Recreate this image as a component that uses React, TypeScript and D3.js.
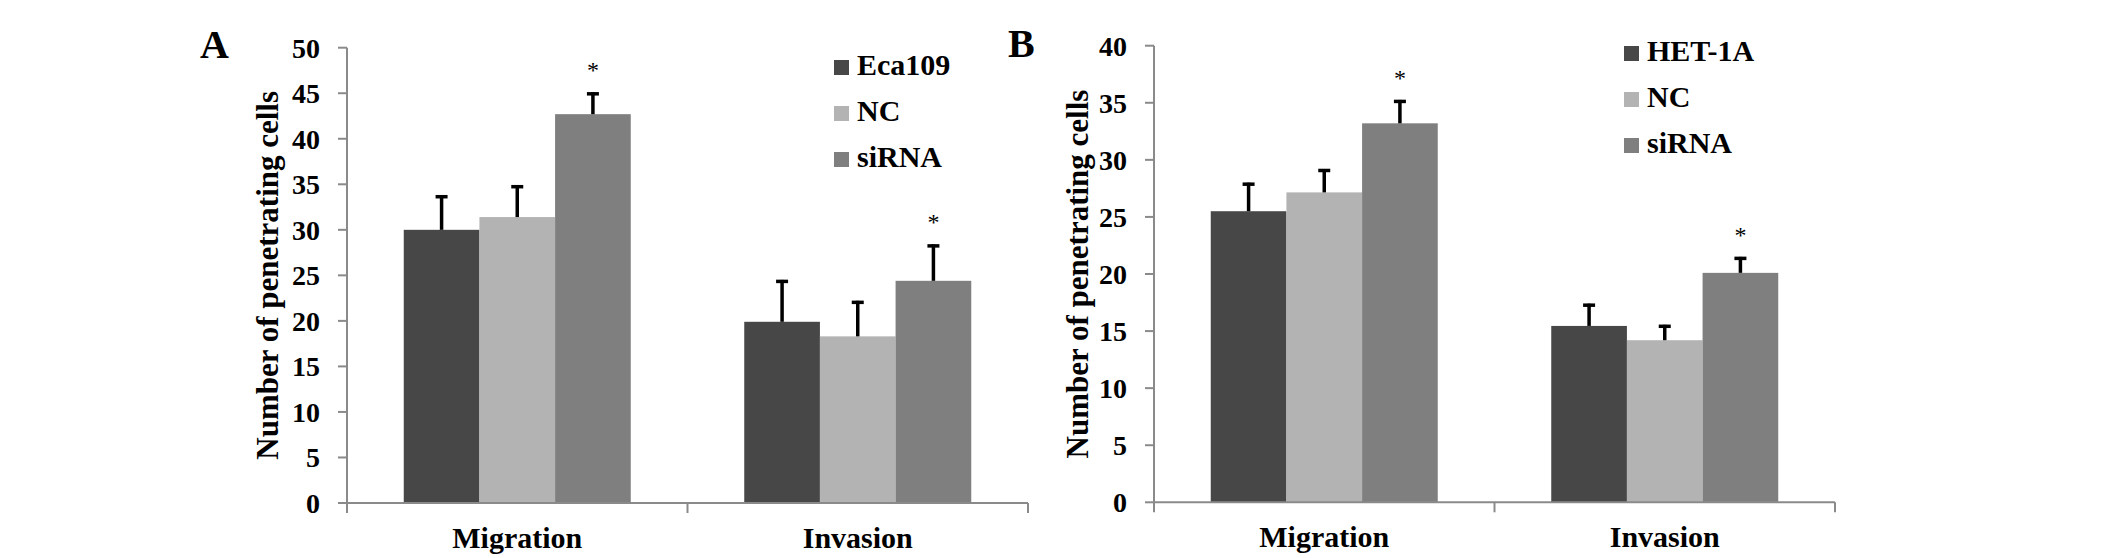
// Grouped bar charts (A: Eca109, B: HET-1A) with error bars, drawn with d3 scales
import * as d3 from "d3"

const categories = ["Migration", "Invasion"]

const seriesA = ["Eca109", "NC", "siRNA"]
const migrationA = [30, 31.4, 42.7]
const migrationErrA = [3.8, 3.5, 2.4]
const invasionA = [19.9, 18.3, 24.4]
const invasionErrA = [4.6, 3.9, 4.0]
const starsA = [[false, false, true], [false, false, true]]
const ticksA = [0, 5, 10, 15, 20, 25, 30, 35, 40, 45, 50]

const seriesB = ["HET-1A", "NC", "siRNA"]
const migrationB = [25.5, 27.15, 33.2]
const migrationErrB = [2.5, 2.05, 2.05]
const invasionB = [15.45, 14.2, 20.1]
const invasionErrB = [1.95, 1.35, 1.4]
const starsB = [[false, false, true], [false, false, true]]
const ticksB = [0, 5, 10, 15, 20, 25, 30, 35, 40]

const yTitle = "Number of penetrating cells"
const COLORS = ["#474747", "#b3b3b3", "#7f7f7f"]
const AXIS = "#8a8a8a"
const FONT = "Liberation Serif, Tinos, Times New Roman, Times, Nimbus Roman, DejaVu Serif, serif"
const txt = { fontFamily: FONT }

interface PanelProps {
  letter: string
  letterX: number
  letterY: number
  series: string[]
  values: number[][]
  errors: number[][]
  stars: boolean[][]
  ticks: number[]
  left: number
  right: number
  top: number
  bottom: number
  titleX: number
  legendX: number
  legendY: number
}

function Panel(p: PanelProps) {
  const yMax = p.ticks[p.ticks.length - 1]
  const y = d3.scaleLinear().domain([0, yMax]).range([p.bottom, p.top])
  const x0 = d3.scaleBand().domain(categories).range([p.left, p.right]).padding(0)
  const x1 = d3.scaleBand()
    .domain(p.series)
    .range([0, x0.bandwidth()])
    .paddingInner(0)
    .paddingOuter(0.75)
  const bw = x1.bandwidth()
  const edges = [p.left, p.left + x0.bandwidth(), p.right]

  return (
    <g>
      <text x={p.letterX} y={p.letterY} fontSize={40} fontWeight="bold" style={txt}>{p.letter}</text>

      {/* bars + error bars */}
      {categories.map((c, ci) =>
        p.series.map((s, si) => {
          const v = p.values[ci][si]
          const bx = (x0(c) ?? 0) + (x1(s) ?? 0)
          const cx = bx + bw / 2
          const top = y(v + p.errors[ci][si])
          return (
            <g key={c + s}>
              <rect x={bx} y={y(v)} width={bw} height={p.bottom - y(v)} fill={COLORS[si]} />
              <line x1={cx} x2={cx} y1={y(v)} y2={top} stroke="#000" strokeWidth={3.5} />
              <line x1={cx - 6} x2={cx + 6} y1={top + 1.5} y2={top + 1.5} stroke="#000" strokeWidth={3.5} />
              {p.stars[ci][si] && (
                <text x={cx} y={top - 14} fontSize={24} textAnchor="middle" style={txt}>*</text>
              )}
            </g>
          )
        })
      )}

      {/* y axis */}
      <line x1={p.left} x2={p.left} y1={p.top} y2={p.bottom} stroke={AXIS} strokeWidth={2} />
      {p.ticks.map(t => (
        <g key={t}>
          <line x1={p.left - 9} x2={p.left} y1={y(t)} y2={y(t)} stroke={AXIS} strokeWidth={2} />
          <text x={p.left - 27} y={y(t)} dy="0.35em" fontSize={28} fontWeight="bold" textAnchor="end" style={txt}>{t}</text>
        </g>
      ))}
      <text
        transform={`translate(${p.titleX},${(p.top + p.bottom) / 2}) rotate(-90)`}
        fontSize={31}
        fontWeight="bold"
        textAnchor="middle"
        style={txt}
      >
        {yTitle}
      </text>

      {/* x axis */}
      <line x1={p.left} x2={p.right} y1={p.bottom} y2={p.bottom} stroke={AXIS} strokeWidth={2} />
      {edges.map((e, i) => (
        <line key={i} x1={e} x2={e} y1={p.bottom} y2={p.bottom + 10} stroke={AXIS} strokeWidth={2} />
      ))}
      {categories.map(c => (
        <text key={c} x={(x0(c) ?? 0) + x0.bandwidth() / 2} y={p.bottom + 45} fontSize={30} fontWeight="bold" textAnchor="middle" style={txt}>
          {c}
        </text>
      ))}

      {/* legend */}
      {p.series.map((s, i) => (
        <g key={s} transform={`translate(${p.legendX},${p.legendY + i * 46})`}>
          <rect x={0} y={0} width={15} height={15} fill={COLORS[i]} />
          <text x={23} y={15} fontSize={30} fontWeight="bold" style={txt}>{s}</text>
        </g>
      ))}
    </g>
  )
}

export default function App() {
  return (
    <div style={{ position: "absolute", left: 0, top: 0, background: "#fff" }}>
      <svg width={2126} height={558} style={{ display: "block" }}>
        <rect width={2126} height={558} fill="#fff" />
        <Panel
          letter="A" letterX={200} letterY={58}
          series={seriesA}
          values={[migrationA, invasionA]}
          errors={[migrationErrA, invasionErrA]}
          stars={starsA}
          ticks={ticksA}
          left={347} right={1028} top={47.7} bottom={503}
          titleX={278}
          legendX={834} legendY={60}
        />
        <Panel
          letter="B" letterX={1008} letterY={57}
          series={seriesB}
          values={[migrationB, invasionB]}
          errors={[migrationErrB, invasionErrB]}
          stars={starsB}
          ticks={ticksB}
          left={1154} right={1835} top={45.7} bottom={502.3}
          titleX={1088}
          legendX={1624} legendY={46}
        />
      </svg>
    </div>
  )
}
